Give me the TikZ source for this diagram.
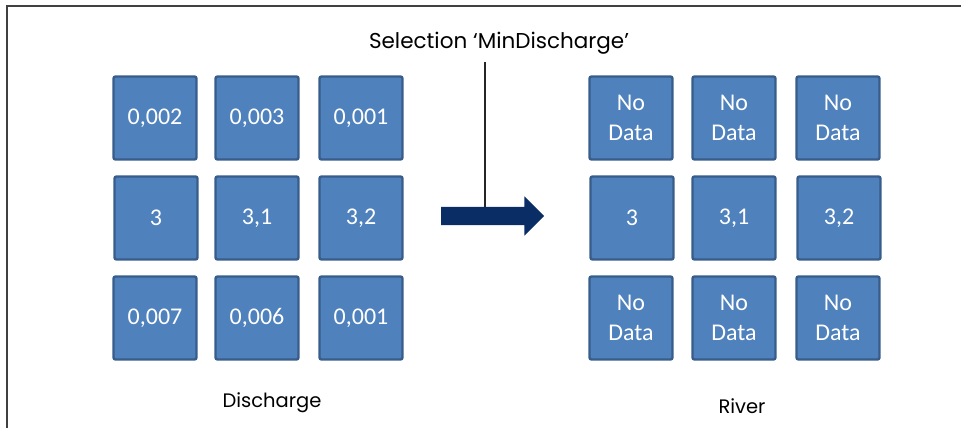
\documentclass[tikz,border=0pt]{standalone}
\usepackage{fontspec}
\setmainfont{Carlito}
\newfontfamily\labelfont{Poppins}
\usetikzlibrary{shapes.arrows}
\definecolor{cellfill}{HTML}{4F81BD}
\definecolor{celledge}{HTML}{385D8A}
\definecolor{arrowblue}{HTML}{0B2D66}
\definecolor{framegray}{HTML}{404040}
\tikzset{
  cell/.style={draw=celledge, line width=2.4pt, fill=cellfill, rounded corners=2pt,
    minimum width=83pt, minimum height=83pt, inner sep=0pt, text=white,
    font=\fontsize{24}{30}\selectfont, align=center},
  caption/.style={font=\labelfont\fontsize{19.5}{22}\selectfont, text=black, inner sep=0pt},
  frame/.style={draw=framegray, line width=2pt},
  pointer/.style={draw=black!85, line width=1.3pt}
}
\begin{document}
\begin{tikzpicture}[x=1pt,y=-1pt]
\useasboundingbox (0,0) rectangle (961,428);
\draw[frame] (7,428) -- (7,6) -- (961,6);
% left grid
\node[cell] (l11) at (155,118) {0,002};
\node[cell] (l12) at (257,118) {0,003};
\node[cell] (l13) at (361,118) {0,001};
\node[cell] (l21) at (156,218) {3};
\node[cell] (l22) at (257,218) {3,1};
\node[cell] (l23) at (361,218) {3,2};
\node[cell] (l31) at (155,318) {0,007};
\node[cell] (l32) at (257,318) {0,006};
\node[cell] (l33) at (361,318) {0,001};
% right grid
\node[cell] (r11) at (631,118) {No\\Data};
\node[cell] (r12) at (734,118) {No\\Data};
\node[cell] (r13) at (838,118) {No\\Data};
\node[cell] (r21) at (632,218) {3};
\node[cell] (r22) at (734,218) {3,1};
\node[cell] (r23) at (839,218) {3,2};
\node[cell] (r31) at (631,318) {No\\Data};
\node[cell] (r32) at (734,318) {No\\Data};
\node[cell] (r33) at (838,318) {No\\Data};
% captions
\node[caption, font=\labelfont\fontsize{21.5}{24}\selectfont] (sel) at (499,43) {Selection ‘MinDischarge’};
\node[caption] (dis) at (272,403) {Discharge};
\node[caption] (riv) at (742,406) {River};
% arrow
\node[single arrow, fill=arrowblue, draw=none, inner xsep=0pt, inner ysep=9pt,
  single arrow head extend=10.5pt, single arrow head indent=0pt,
  minimum height=103pt] (arr) at (488,216) {};
\coordinate (ptop) at (485,62);
\draw[pointer] (ptop) -- (ptop |- arr.north);
\end{tikzpicture}
\end{document}
